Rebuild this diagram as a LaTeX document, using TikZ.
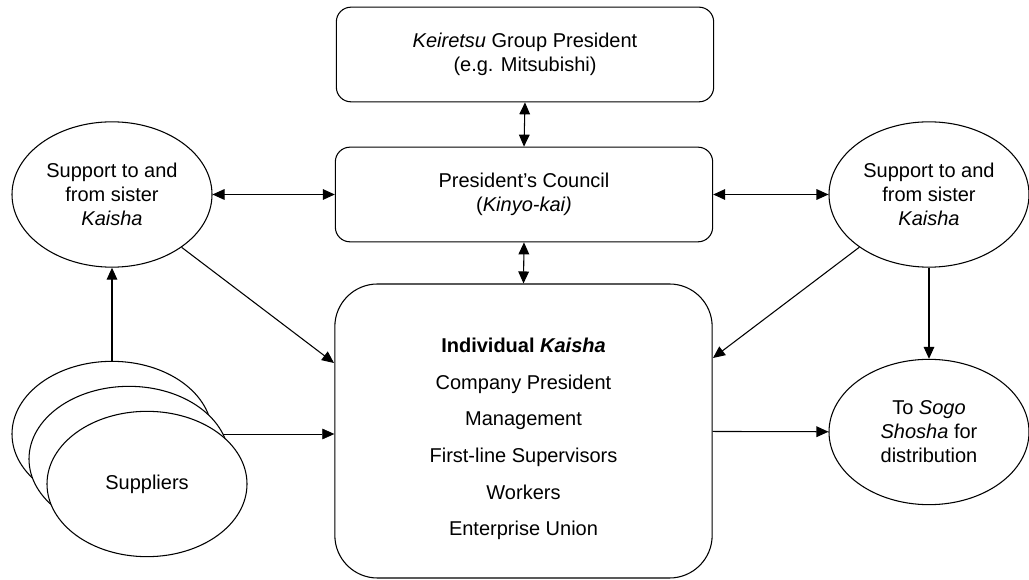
\documentclass[tikz,border=0pt]{standalone}
\usepackage{fontspec}
\setmainfont{Liberation Sans}
\usetikzlibrary{arrows.meta, shapes.geometric, backgrounds}
\tikzset{
  every picture/.style={line width=0.8pt},
  box/.style={draw, fill=white, rounded corners=11pt, align=center, minimum width=283pt, minimum height=71pt},
  oval/.style={draw, fill=white, ellipse, align=center, inner sep=0pt, minimum width=150pt, minimum height=109pt},
  arrow/.style={-{Triangle[length=9pt, width=8pt]}},
  twoway/.style={{Triangle[length=9pt, width=8pt]}-{Triangle[length=9pt, width=8pt]}},
}

\begin{document}
\begin{tikzpicture}[x=0.75pt, y=-0.75pt, font=\fontsize{15}{18}\selectfont]
  \useasboundingbox (0,0) rectangle (1029,580);
  % group level
  \node[box] (group) at (525,54.5) {\textit{Keiretsu} Group President\\(e.g. Mitsubishi)};
  \node[box] (council) at (524,194.5) {President's Council\\(\textit{Kinyo-kai)}};
  % the company itself
  \node[box, rounded corners=32pt, minimum height=220.5pt] (kaisha) at (523.5,431) {};
  \node[align=center, font=\fontsize{15}{27.5}\selectfont] (kaishatext) at ([yshift=-6pt]kaisha.center)
    {\textbf{Individual \textit{Kaisha}}\\Company President\\Management\\First-line Supervisors\\Workers\\Enterprise Union};
  % sister companies and distribution
  \node[oval] (lsis) at (112,194.5) {Support to and\\from sister\\\textit{Kaisha}};
  \node[oval] (rsis) at (929,194.5) {Support to and\\from sister\\\textit{Kaisha}};
  \node[oval] (sogo) at (929,432) {To \textit{Sogo}\\\textit{Shosha} for\\distribution};
  % stacked suppliers, back to front
  \node[oval] (sup1) at (112,434) {};
  \node[oval] (sup2) at (129,459) {};
  \node[oval] (sup3) at (147,484) {Suppliers};
  \coordinate (lhit) at (334,363);
  \coordinate (rhit) at (713,358);
  % connectors
  \draw[twoway] (group.south) -- (council.north);
  \draw[twoway] (council.south) -- (kaisha.north);
  \draw[twoway] (lsis) -- (council);
  \draw[twoway] (council) -- (rsis);
  \draw[arrow] (lsis) -- (lhit);
  \draw[arrow] (rsis) -- (rhit);
  \draw[arrow] (rsis) -- (sogo);
  \draw[arrow] (kaisha) -- (sogo);
  \draw[arrow] (sup1) -- (lsis);
  \begin{scope}[on background layer]
    \draw[arrow] (sup1.east) -- (sup1.east -| kaisha.west);
  \end{scope}
\end{tikzpicture}
\end{document}
